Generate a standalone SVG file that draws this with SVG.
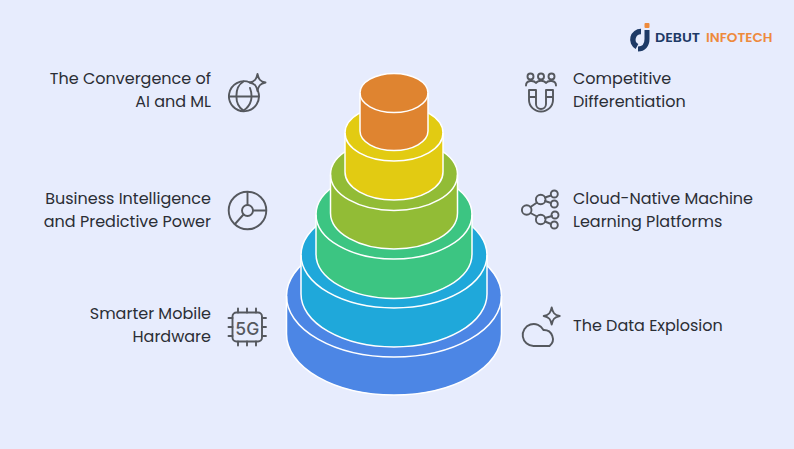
<svg xmlns="http://www.w3.org/2000/svg" width="794" height="449" viewBox="0 0 794 449">
<style>
.t{font-family:Poppins,"Noto Sans","Open Sans",sans-serif;font-size:16px;fill:#2b2e35}
.e{text-anchor:end}
.i{fill:none;stroke:#55585e;stroke-width:1.9;stroke-linecap:round;stroke-linejoin:round}
.c{stroke:#fff;stroke-width:1.5}
.l{fill:none;stroke:#fff;stroke-width:1.5}
</style>
<rect width="794" height="449" fill="#e7ecfd"/>
<g id="pyramid">
<g id="tier-base"><path class="c" fill="#4c86e5" d="M286.500 296A107.500 61 0 0 1 501.500 296V334A107.500 61 0 0 1 286.500 334Z"/><path class="l" d="M286.500 296A107.500 61 0 0 0 501.500 296"/></g>
<g id="tier-blue"><path class="c" fill="#1fa8da" d="M301 255A93 53 0 0 1 487 255V294A93 53 0 0 1 301 294Z"/><path class="l" d="M301 255A93 53 0 0 0 487 255"/></g>
<g id="tier-green"><path class="c" fill="#3cc582" d="M316 214.500A78 44.500 0 0 1 472 214.500V254A78 44.500 0 0 1 316 254Z"/><path class="l" d="M316 214.500A78 44.500 0 0 0 472 214.500"/></g>
<g id="tier-olive"><path class="c" fill="#92bc36" d="M330.500 174.500A63.500 36 0 0 1 457.500 174.500V213A63.500 36 0 0 1 330.500 213Z"/><path class="l" d="M330.500 174.500A63.500 36 0 0 0 457.500 174.500"/></g>
<g id="tier-yellow"><path class="c" fill="#e2cb12" d="M345 133A49 28 0 0 1 443 133V172A49 28 0 0 1 345 172Z"/><path class="l" d="M345 133A49 28 0 0 0 443 133"/></g>
<g id="tier-orange"><path class="c" fill="#df8430" d="M360 93A34 19.500 0 0 1 428 93V131A34 19.500 0 0 1 360 131Z"/><path class="l" d="M360 93A34 19.500 0 0 0 428 93"/></g>
</g>
<g id="logo">
<path d="M641 31.500A8 8 0 0 0 637 46.500" fill="none" stroke="#1e3a66" stroke-width="5.500"/>
<path d="M647 30V39C647 45 643.500 49 638 49" fill="none" stroke="#1e3a66" stroke-width="5"/>
<rect x="644.500" y="23" width="5" height="5" rx="1" fill="#ee8a3c"/>
<text x="655" y="42" font-family="Poppins,'Noto Sans',sans-serif" font-size="12.500" font-weight="600" fill="#1e3a66" textLength="45" lengthAdjust="spacingAndGlyphs">DEBUT</text>
<text x="706" y="42" font-family="Poppins,'Noto Sans',sans-serif" font-size="12.500" font-weight="600" fill="#ee8a3c" textLength="66.500" lengthAdjust="spacingAndGlyphs">INFOTECH</text>
</g>
<g id="convergence">
<text class="t e" x="211" y="84">The Convergence of</text><text class="t e" x="211" y="107">AI and ML</text>
<g class="i"><path d="M258 91A15 15 0 1 1 250 82.500"/><path d="M229 96.500H258.500M243.500 81.500C234 87 234 105 243.500 110.500C252 105 253 96 250 88"/></g>
<path class="i" d="M257.500 74C258.500 79 260 81.500 265.500 82.500C260 83.500 258.500 86 257.500 91C256.500 86 255 83.500 249.500 82.500C255 81.500 256.500 79 257.500 74Z"/>
</g>
<g id="business">
<text class="t e" x="211" y="204">Business Intelligence</text><text class="t e" x="211" y="227">and Predictive Power</text>
<g class="i"><circle cx="247.500" cy="210.500" r="18.800"/><circle cx="247.500" cy="210.500" r="5.500"/><path d="M247.500 192V205M253 210.500H266M243.500 214.500L235 224"/></g>
</g>
<g id="hardware">
<text class="t e" x="211" y="319">Smarter Mobile</text><text class="t e" x="211" y="342">Hardware</text>
<g class="i"><rect x="232.500" y="312.500" width="29.500" height="29" rx="4"/><path d="M238 308.500V312.500M247 308.500V312.500M256 308.500V312.500M238 341.500V345.500M247 341.500V345.500M256 341.500V345.500M228.500 318H232.500M228.500 327H232.500M228.500 336H232.500M262 318H266M262 327H266M262 336H266"/></g>
<text x="247.300" y="334.500" text-anchor="middle" font-family="Inter,'Noto Sans',sans-serif" font-size="17.500" font-weight="500" fill="#55585e">5G</text>
</g>
<g id="competitive">
<text class="t" x="573" y="84">Competitive</text><text class="t" x="573" y="107">Differentiation</text>
<g class="i"><circle cx="530.500" cy="76.500" r="3"/><circle cx="541" cy="76.500" r="3"/><circle cx="551.500" cy="76.500" r="3"/><path d="M526 85.500C526 80 534 80 536 83C538 80 544 80 546 83C548 80 556 80 556 85.500"/><path d="M529 90H536V104A5 5 0 0 0 546 104V90H553V100A12 11.500 0 0 1 529 100ZM529 97H536M546 97H553"/></g>
</g>
<g id="cloud-native">
<text class="t" x="573" y="204">Cloud-Native Machine</text><text class="t" x="573" y="227">Learning Platforms</text>
<g class="i"><circle cx="526.700" cy="210" r="4.800"/><circle cx="540.700" cy="199.500" r="4.800"/><circle cx="540.700" cy="219.500" r="4.800"/><circle cx="554.300" cy="194" r="3.500"/><circle cx="554.300" cy="204" r="3.500"/><circle cx="555" cy="215" r="3.500"/><circle cx="554.300" cy="225" r="3.500"/><path d="M530.500 207L537 202.500M530.500 213L537 216.500M545 197.500L551 195.500M545 201L551 203M545 218L552 216M545 221.500L551 224"/></g>
</g>
<g id="data">
<text class="t" x="573" y="331">The Data Explosion</text>
<g class="i"><path d="M533.500 346A11 11 0 1 1 543.500 330A9 9 0 0 1 549.500 346Z"/><path d="M551.700 307.500C552.700 312.500 554.200 315 559.700 316C554.200 317 552.700 319.500 551.700 324.500C550.700 319.500 549.200 317 543.700 316C549.200 315 550.700 312.500 551.700 307.500Z"/></g>
</g>
</svg>
